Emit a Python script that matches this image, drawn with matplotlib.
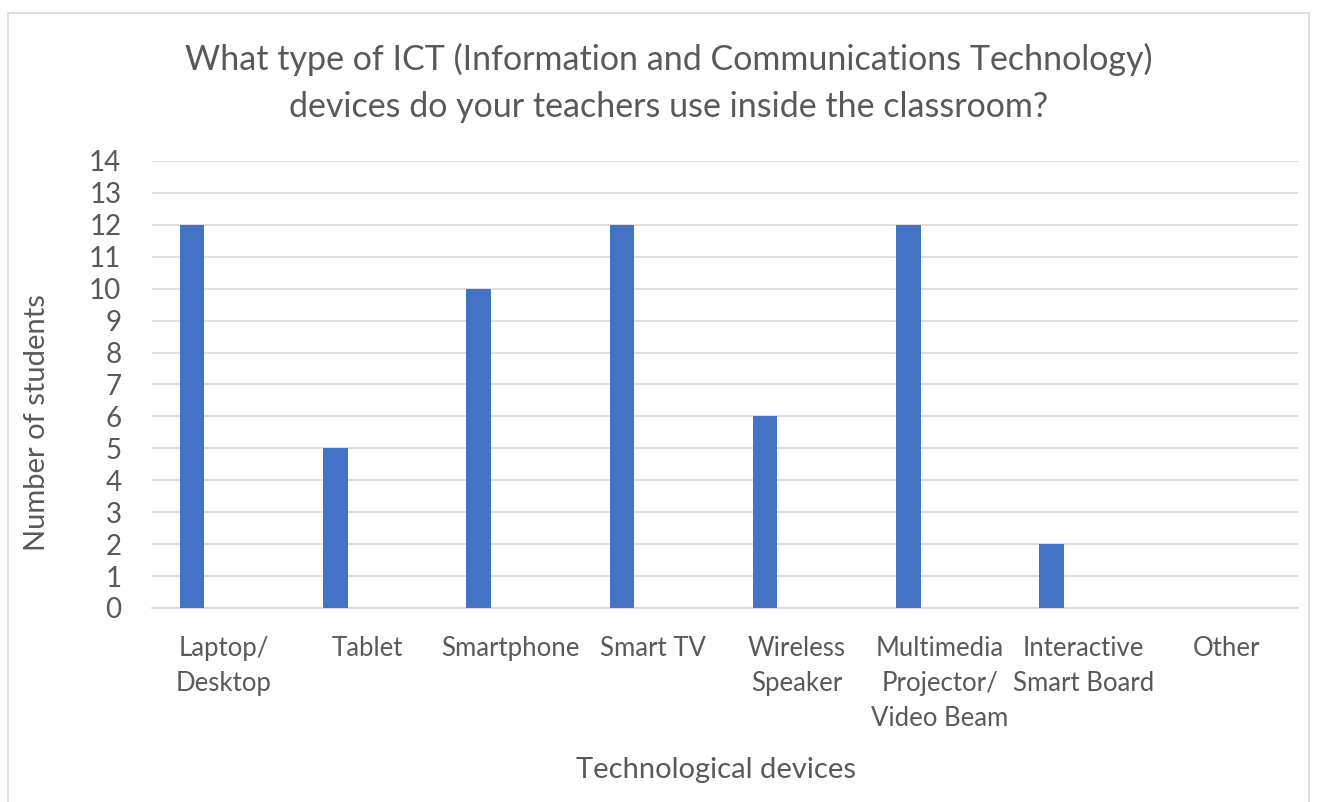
import matplotlib
matplotlib.use("Agg")
import matplotlib.pyplot as plt
import numpy as np
from matplotlib.patches import Rectangle

# survey answers
devices = ["Laptop/\nDesktop", "Tablet", "Smartphone", "Smart TV", "Wireless\nSpeaker",
           "Multimedia\nProjector/\nVideo Beam", "Interactive\nSmart Board", "Other"]
students = [12, 5, 10, 12, 6, 12, 2, 0]
empty_series = [0, 0, 0, 0, 0, 0, 0, 0]

plt.rcParams['font.family'] = ['Lato', 'DejaVu Sans']
txt = '#595959'

fig = plt.figure(figsize=(13.17, 8.02), dpi=100)
fig.patches.append(Rectangle((0.006, -0.01), 0.988, 0.994, transform=fig.transFigure,
                             fill=False, ec='#d9d9d9', lw=1.2))
ax = fig.add_axes([0.1154, 0.2419, 0.8702, 0.5574])

x = np.arange(len(devices))
w = 0.172
ax.bar(x - 0.22, students, width=w, color='#4472c4', zorder=3)
ax.bar(x + 0.22, empty_series, width=w, color='#ed7d31', zorder=3)

ax.set_xlim(-0.5, len(devices) - 0.5)
ax.set_ylim(0, 14)
ax.set_yticks(range(0, 15))
ax.set_xticks(x)
ax.set_xticklabels(devices, fontsize=18.5, color=txt, linespacing=1.5, va='top')
ax.tick_params(axis='y', labelsize=20, labelcolor=txt, length=0, pad=22)
ax.tick_params(axis='x', length=0, pad=20)
ax.grid(axis='y', color='#d9d9d9', lw=1.2, zorder=0)
for s in ['top', 'right', 'left']:
    ax.spines[s].set_visible(False)
ax.spines['bottom'].set_color('#d9d9d9')
ax.spines['bottom'].set_linewidth(1.2)

fig.text(0.028, 1 - 423 / 802, "Number of students", fontsize=21, color=txt,
         rotation=90, ha='center', va='center')
fig.text(0.5435, 1 - 770 / 802, "Technological devices", fontsize=21, color=txt,
         ha='center', va='center')
fig.text(0.508, 1 - 83 / 802, "What type of ICT (Information and Communications Technology)\n"
         "devices do your teachers use inside the classroom?",
         fontsize=24.5, color=txt, ha='center', va='center', linespacing=1.55)

fig.savefig("out.png", dpi=100)
